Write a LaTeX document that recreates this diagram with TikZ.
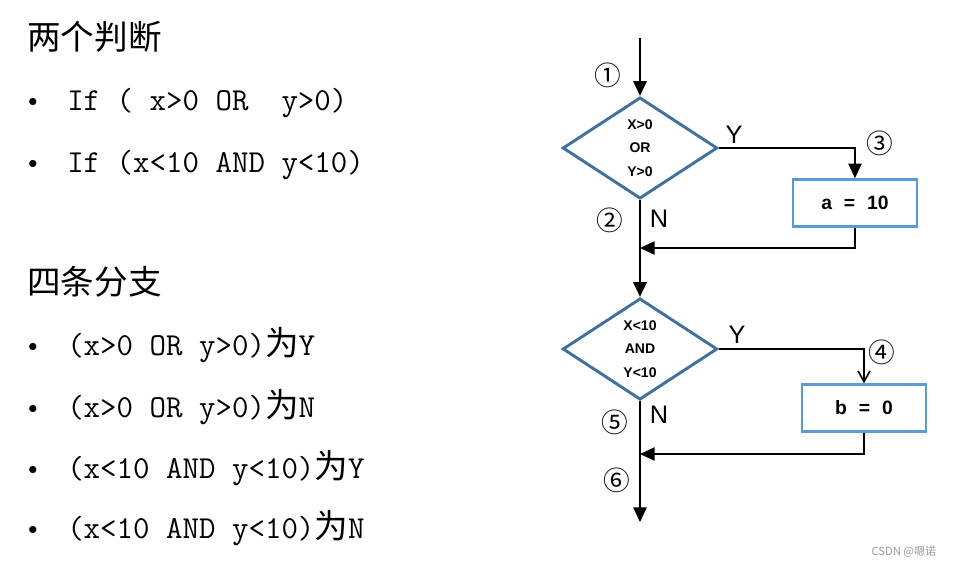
\documentclass[tikz,border=0pt]{standalone}
\usepackage{fontspec}
\setsansfont{Liberation Sans}
\newfontfamily\cjk[Scale=1.05]{Noto Sans CJK SC}
\newfontfamily\circnum{Noto Sans CJK SC}
\usetikzlibrary{arrows.meta,shapes.geometric}
\definecolor{decblue}{HTML}{41719C}
\definecolor{boxblue}{HTML}{5B9BD5}
\newcommand{\fcsp}{\hspace{0.62em}}
\tikzset{
  fc_txt/.style = {inner sep=0pt, anchor=base west,
    font=\fontsize{24}{28}\selectfont},% texte de gauche
  fc_bul/.style = {inner sep=0pt, anchor=base,
    font=\fontsize{24}{28}\selectfont},% puce
  fc_d/.style = {diamond, draw=decblue, line width=2.2pt, aspect=1.53,
    inner sep=0pt, minimum width=116pt, minimum height=76pt, align=center,
    font=\sffamily\bfseries\fontsize{10.5}{17.6}\selectfont},% decision
  fc_b/.style = {rectangle, draw=boxblue, line width=2.2pt, inner sep=0pt,
    minimum width=93pt, minimum height=35pt,
    font=\sffamily\bfseries\fontsize{14.5}{18}\selectfont},% traitement
  fc_yn/.style = {inner sep=0pt, font=\sffamily\fontsize{19}{20}\selectfont},% Y / N
  fc_num/.style = {inner sep=0pt, font=\circnum\fontsize{20}{21}\selectfont},% etapes
  fc_arr/.style = {line width=1.2pt, -{Triangle[width=10pt,length=11pt]}},
  fc_open/.style = {line width=1.2pt, -{Straight Barb[width=9pt,length=8pt]}}
}
\begin{document}
\begin{tikzpicture}[x=0.75pt,y=-0.75pt]
\fill[white] (0,0) rectangle (953,568);
% texte de gauche
\node [fc_txt] (t1) at (27,49) {\cjk 两个判断};
\node [fc_bul] (p1) at (33,110) {\textbullet};
\node [fc_txt] (l1) at (67,110) {\ttfamily If ( x>0 OR\ \ y>0)};
\node [fc_bul] (p2) at (33,172) {\textbullet};
\node [fc_txt] (l2) at (67,172) {\ttfamily If (x<10 AND y<10)};
\node [fc_txt] (t2) at (27,294) {\cjk 四条分支};
\node [fc_bul] (p3) at (33,355) {\textbullet};
\node [fc_txt] (l3) at (67,355) {\ttfamily (x>0 OR y>0){\cjk 为}Y};
\node [fc_bul] (p4) at (33,417) {\textbullet};
\node [fc_txt] (l4) at (67,417) {\ttfamily (x>0 OR y>0){\cjk 为}N};
\node [fc_bul] (p5) at (33,478) {\textbullet};
\node [fc_txt] (l5) at (67,478) {\ttfamily (x<10 AND y<10){\cjk 为}Y};
\node [fc_bul] (p6) at (33,538) {\textbullet};
\node [fc_txt] (l6) at (67,538) {\ttfamily (x<10 AND y<10){\cjk 为}N};
% organigramme
\coordinate (s0) at (640,38);
\node [fc_d] (d1) at (640,148) {X>0\\OR\\Y>0};
\node [fc_b] (b1) at (855,203) {a\fcsp=\fcsp10};
\coordinate (j1) at (640,248);
\node [fc_d] (d2) at (640,349) {X<10\\AND\\Y<10};
\node [fc_b] (b2) at (864,408) {b\fcsp=\fcsp0};
\coordinate (j2) at (640,454);
\coordinate (e0) at (640,522);
\draw [fc_arr] (s0) -- (d1);
\draw [fc_arr] (d1.east) -| (b1.north);
\draw [fc_arr] (b1.south) |- (j1);
\draw [fc_arr] (d1.south) -- (d2.north);
\draw [fc_open] (d2.east) -| (b2.north);
\draw [fc_arr] (b2.south) |- (j2);
\draw [fc_arr] (d2.south) -- (e0);
% etiquettes
\node [fc_yn] (y1) at (734,135) {Y};
\node [fc_yn] (n1) at (659,219) {N};
\node [fc_yn] (y2) at (737,335) {Y};
\node [fc_yn] (n2) at (659,415) {N};
\node [fc_num] (c1) at (608,75) {①};
\node [fc_num] (c2) at (610,220) {②};
\node [fc_num] (c3) at (880,143) {③};
\node [fc_num] (c4) at (882,352) {④};
\node [fc_num] (c5) at (615,422) {⑤};
\node [fc_num] (c6) at (617,480) {⑥};
\node [inner sep=0pt, text=gray!80, font=\cjk\fontsize{8}{9}\selectfont] (wm) at (904,552) {CSDN @嗯诺};
\end{tikzpicture}
\end{document}
